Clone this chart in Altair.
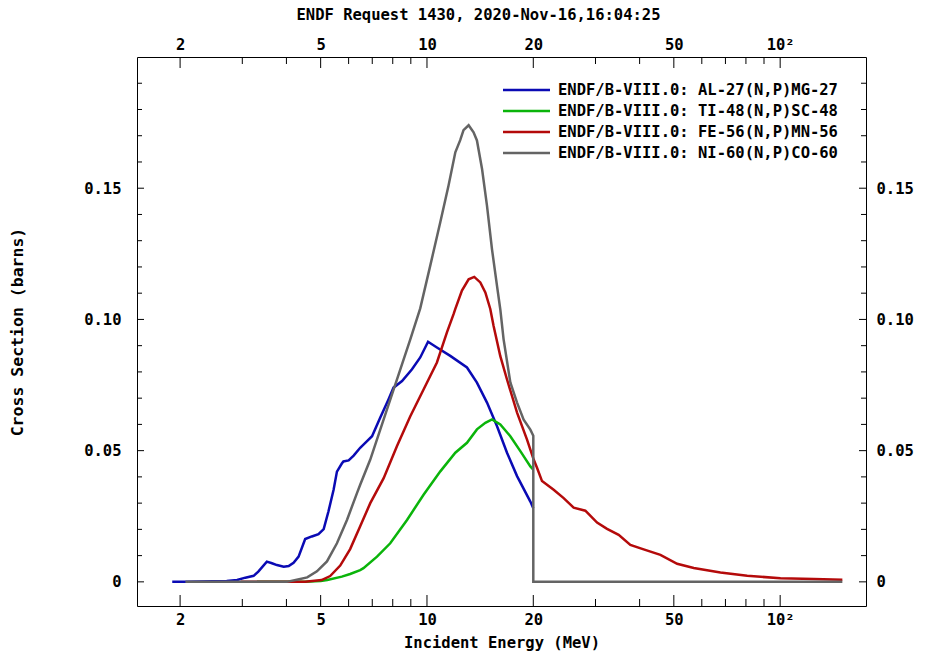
import altair as alt
import pandas as pd

TITLE = "ENDF Request 1430, 2020-Nov-16,16:04:25"
X_TITLE = "Incident Energy (MeV)"
Y_TITLE = "Cross Section (barns)"

series_names = [
    "ENDF/B-VIII.0: AL-27(N,P)MG-27",
    "ENDF/B-VIII.0: TI-48(N,P)SC-48",
    "ENDF/B-VIII.0: FE-56(N,P)MN-56",
    "ENDF/B-VIII.0: NI-60(N,P)CO-60",
]
series_colors = ["#0a0ab4", "#0ab40a", "#b40a0a", "#646464"]

# Al-27(n,p)
al_energy = [1.90, 2.07, 2.71, 2.90, 3.06, 3.23, 3.33, 3.52, 3.64, 3.76, 3.93, 4.06,
             4.19, 4.33, 4.52, 4.72, 4.93, 5.10, 5.26, 5.44, 5.56, 5.74, 5.80, 6.00,
             6.20, 6.47, 6.61, 6.99, 7.37, 7.78, 8.04, 8.50, 9.07, 9.57, 10.07, 10.67,
             11.64, 12.98, 13.85, 14.79, 15.79, 16.85, 17.99, 19.62, 20.0]
al_xs = [0.0, 0.0, 0.0003, 0.0007, 0.0016, 0.0023, 0.0039, 0.0077, 0.0071, 0.0064, 0.0058, 0.0060,
         0.0073, 0.0096, 0.0163, 0.0173, 0.0182, 0.0201, 0.0268, 0.0351, 0.0420, 0.0451, 0.0459, 0.0463,
         0.0481, 0.0511, 0.0523, 0.0555, 0.0625, 0.0695, 0.0740, 0.0765, 0.0810, 0.0855, 0.0915, 0.0893,
         0.0861, 0.0817, 0.0759, 0.0683, 0.0593, 0.0492, 0.0403, 0.0306, 0.0280]

# Ti-48(n,p)
ti_energy = [3.30, 4.50, 5.00, 5.22, 5.74, 6.06, 6.47, 6.61, 7.22, 7.87, 8.78, 9.78,
             10.91, 12.03, 12.98, 13.85, 14.63, 15.28, 16.13, 17.22, 18.38, 19.62, 20.0]
ti_xs = [0.0, 0.0, 0.0003, 0.0007, 0.0020, 0.0030, 0.0045, 0.0052, 0.0096, 0.0147, 0.0236, 0.0332,
         0.0421, 0.0492, 0.0530, 0.0581, 0.0606, 0.0619, 0.0600, 0.0555, 0.0498, 0.0440, 0.0428]

# Fe-56(n,p)
fe_energy = [2.97, 4.52, 5.03, 5.32, 5.68, 6.06, 6.47, 6.91, 7.54, 8.22,
             8.97, 9.78, 10.67, 11.39, 11.90, 12.03, 12.56, 13.12, 13.61, 14.16, 14.63, 15.11,
             15.44, 16.13, 16.85, 17.99, 19.20, 19.62, 20.05, 20.49, 21.17, 22.84, 24.38, 26.02,
             28.08, 30.31, 32.35, 34.89, 37.66, 41.07, 45.81, 51.09, 56.93, 67.74, 80.66, 100.2,
             124.5, 150.0]
fe_xs = [0.0, 0.0, 0.0007, 0.0022, 0.0062, 0.0125, 0.0212, 0.0300, 0.0395, 0.0517,
         0.0631, 0.0733, 0.0836, 0.0951, 0.1021, 0.1040, 0.1110, 0.1153, 0.1162, 0.1141, 0.1103, 0.1040,
         0.0975, 0.0860, 0.0771, 0.0645, 0.0542, 0.0504, 0.0466, 0.0435, 0.0384, 0.0351, 0.0319, 0.0283,
         0.0271, 0.0226, 0.0202, 0.0179, 0.0141, 0.0124, 0.0103, 0.0069, 0.0053, 0.0036, 0.0023, 0.0014,
         0.0011, 0.0008]

# Ni-60(n,p)
ni_energy = [2.07, 4.01, 4.28, 4.58, 4.88, 5.21, 5.56, 5.94, 6.34, 6.47, 6.91, 7.54,
             8.22, 8.97, 9.57, 10.22, 10.91, 11.51, 12.03, 12.42, 12.69, 13.12, 13.55, 13.85,
             14.32, 14.79, 15.28, 15.79, 16.13, 16.48, 17.22, 17.99, 18.78, 19.62, 20.0, 20.0,
             150.0]
ni_xs = [0.0, 0.0, 0.0008, 0.0017, 0.0040, 0.0078, 0.0147, 0.0237, 0.0339, 0.0370, 0.0466, 0.0619,
         0.0771, 0.0924, 0.1042, 0.1206, 0.1371, 0.1510, 0.1637, 0.1683, 0.1721, 0.1740, 0.1713, 0.1682,
         0.1573, 0.1433, 0.1267, 0.1127, 0.1038, 0.0924, 0.0760, 0.0683, 0.0618, 0.0580, 0.0557, 0.0,
         0.0]

x_major = [2, 5, 10, 20, 50, 100]
x_minor = [3, 4, 6, 7, 8, 9, 30, 40, 60, 70, 80, 90]
y_major = [0, 0.05, 0.10, 0.15]
y_minor = [0.01, 0.02, 0.03, 0.04, 0.06, 0.07, 0.08, 0.09,
           0.11, 0.12, 0.13, 0.14, 0.16, 0.17, 0.18, 0.19]

W, H = 729, 549
FONT = "DejaVu Sans Mono"
FS = 15.5

xscale = alt.Scale(type="log", domain=[1.51, 175], nice=False)
yscale = alt.Scale(domain=[-0.0092, 0.2], nice=False, zero=False)
cscale = alt.Scale(domain=series_names, range=series_colors)

lbl = dict(labelFont=FONT, labelFontSize=FS, labelFontWeight="bold", labelColor="black",
           ticks=False, tickSize=0, domain=False, grid=False, labelFlush=False,
           labelOverlap=False)
ttl = dict(titleFont=FONT, titleFontWeight="bold", titleColor="black")

x_label_expr = "datum.value == 100 ? '10\u00b2' : format(datum.value, 'd')"
y_label_expr = "datum.value == 0 ? '0' : format(datum.value, '.2f')"

bottom_axis = alt.Axis(orient="bottom", values=x_major, labelExpr=x_label_expr,
                       labelPadding=6, title=X_TITLE, titleFontSize=FS, titlePadding=8, **lbl, **ttl)
top_axis = alt.Axis(orient="top", values=x_major, labelExpr=x_label_expr,
                    labelPadding=5, title=None, **lbl)
left_axis = alt.Axis(orient="left", values=y_major, labelExpr=y_label_expr,
                     labelPadding=16, title=Y_TITLE, titleFontSize=16.5, titlePadding=58, **lbl, **ttl)
right_axis = alt.Axis(orient="right", values=y_major, labelExpr=y_label_expr,
                      labelPadding=10, title=None, **lbl)

layers = []

# x ticks (inward), top and bottom
def xticks(vals, length, side, axis):
    d = pd.DataFrame({"v": vals})
    if side == "bottom":
        yy, yy2 = H - length, H
    else:
        yy, yy2 = 0, length
    return alt.Chart(d).mark_rule(color="black", strokeWidth=1).encode(
        x=alt.X("v:Q", scale=xscale, axis=axis),
        y=alt.value(yy), y2=alt.value(yy2))

def yticks(vals, length, side, axis):
    d = pd.DataFrame({"v": vals})
    if side == "left":
        xx, xx2 = 0, length
    else:
        xx, xx2 = W - length, W
    return alt.Chart(d).mark_rule(color="black", strokeWidth=1).encode(
        y=alt.Y("v:Q", scale=yscale, axis=axis),
        x=alt.value(xx), x2=alt.value(xx2))

layers.append(xticks(x_major, 11, "bottom", bottom_axis))
layers.append(xticks(x_major, 11, "top", top_axis))
layers.append(xticks(x_minor, 7, "bottom", None))
layers.append(xticks(x_minor, 7, "top", None))
layers.append(yticks(y_major, 7, "left", left_axis))
layers.append(yticks(y_major, 7, "right", right_axis))
layers.append(yticks(y_minor, 5, "left", None))
layers.append(yticks(y_minor, 5, "right", None))

def curve(i, es, xs):
    d = pd.DataFrame({"E": es, "xs": xs, "order": list(range(len(es))),
                      "series": series_names[i]})
    return alt.Chart(d).mark_line(strokeWidth=2.5, clip=True).encode(
        x=alt.X("E:Q", scale=xscale, axis=None),
        y=alt.Y("xs:Q", scale=yscale, axis=None),
        order="order:Q",
        color=alt.Color("series:N", scale=cscale, legend=None))

layers.append(curve(0, al_energy, al_xs))
layers.append(curve(1, ti_energy, ti_xs))
layers.append(curve(2, fe_energy, fe_xs))
layers.append(curve(3, ni_energy, ni_xs))

# legend (inside, top right)
for i, name in enumerate(series_names):
    d = pd.DataFrame({"series": [name]})
    ypos = 33 + 21 * i
    layers.append(alt.Chart(d).mark_rule(strokeWidth=2.5).encode(
        x=alt.value(366), x2=alt.value(413), y=alt.value(ypos),
        color=alt.Color("series:N", scale=cscale, legend=None)))
    layers.append(alt.Chart(d).mark_text(align="left", baseline="middle", font=FONT,
                                         fontSize=FS, fontWeight="bold", color="black").encode(
        x=alt.value(421), y=alt.value(ypos), text="series:N"))

chart = alt.layer(*layers).properties(
    width=W, height=H,
    title=alt.TitleParams(TITLE, font=FONT, fontSize=FS, fontWeight="bold", color="black",
                          anchor="middle", dx=-23, offset=14),
    autosize=alt.AutoSizeParams(type="none"),
    padding={"left": 137, "top": 57, "right": 64, "bottom": 47},
    background="white",
).resolve_axis(x="independent", y="independent").configure_view(
    stroke="black", strokeWidth=1)

chart.save("out.html", embed_options={"renderer": "svg", "actions": False})
